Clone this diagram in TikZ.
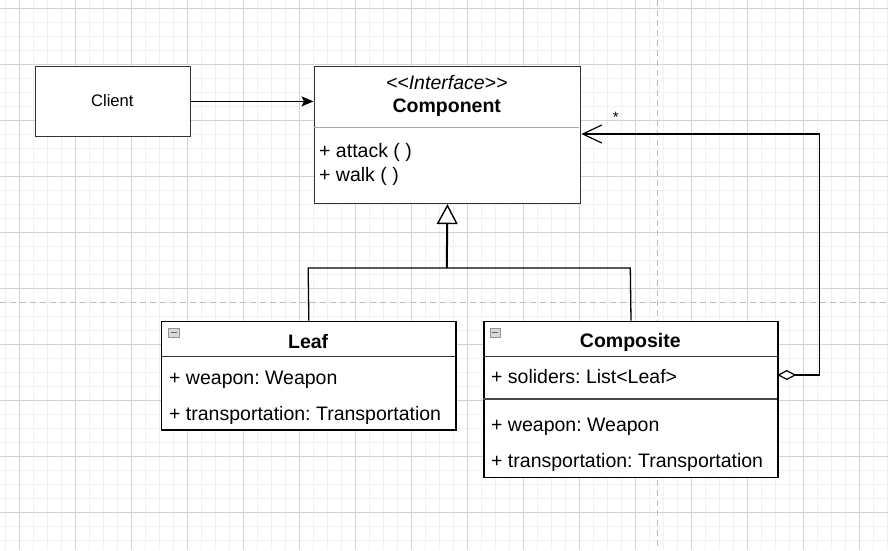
\documentclass[tikz,border=0pt]{standalone}
\usepackage{fontspec}
\setmainfont{Liberation Sans}
\usetikzlibrary{arrows.meta}
\frenchspacing
\definecolor{gridminor}{HTML}{F1F1F1}
\definecolor{gridmajor}{HTML}{D2D2D2}
\definecolor{pagedash}{HTML}{BDBDBD}
\definecolor{boxline}{HTML}{333333}
\definecolor{sepgrey}{HTML}{A8A8A8}
\definecolor{iconfill}{HTML}{D8D8D8}
\definecolor{icondark}{HTML}{666666}
\newcommand{\mainsize}{\fontsize{19.5}{23}\selectfont}
\newcommand{\clientsize}{\fontsize{16.6}{20}\selectfont}
\begin{document}
\begin{tikzpicture}[x=1pt,y=-1pt,
  box/.style={draw=boxline,line width=1.4pt,fill=white,rectangle,inner sep=0pt,anchor=north west},
  txt/.style={inner sep=0pt,font=\mainsize},
  attr/.style={txt,anchor=base west},
  ttl/.style={txt,anchor=base,font=\mainsize\bfseries},
  edge/.style={line width=1.3pt,black},
  icon/.style={draw=icondark!70,fill=iconfill,line width=0.6pt,inner sep=0pt,minimum width=10.5pt,minimum height=8.5pt,anchor=north west,rectangle}
]
\useasboundingbox (0,0) rectangle (888,550);
\fill[white] (0,0) rectangle (888,550);
% grid
\foreach \i in {0,...,63} {\draw[gridminor,line width=1.5pt] (5.5+14*\i,0) -- (5.5+14*\i,550);}
\foreach \i in {0,...,39} {\draw[gridminor,line width=1.5pt] (0,8.3+14*\i) -- (888,8.3+14*\i);}
\foreach \i in {0,...,15} {\draw[gridmajor,line width=0.9pt] (19.5+56*\i,0) -- (19.5+56*\i,550);}
\foreach \i in {0,...,9} {\draw[gridmajor,line width=0.9pt] (0,8.3+56*\i) -- (888,8.3+56*\i);}
% page break dashes
\draw[pagedash,line width=1.4pt,dash pattern=on 6pt off 4pt] (657.7,0) -- (657.7,550);
\draw[pagedash,line width=1.4pt,dash pattern=on 6pt off 4pt] (0,302.3) -- (888,302.3);

% Client
\node[box,minimum width=154.5pt,minimum height=70pt] (client) at (35,65.7) {};
\node[inner sep=0pt,anchor=base,font=\clientsize] (clienttxt) at (112.3,106) {Client};

% Component
\node[box,minimum width=266.5pt,minimum height=136.7pt] (comp) at (313.5,66) {};
\draw[sepgrey,line width=1.6pt] (314.2,127.5) -- (579.3,127.5);
\node[txt,anchor=base,font=\mainsize\itshape] (stereo) at (446.75,89.5) {<{}<Interface>{}>};
\node[ttl] (comptitle) at (446.75,112.3) {Component};
\node[attr] (m1) at (319,157.3) {+ attack ( )};
\node[attr] (m2) at (319,181.7) {+ walk ( )};

% Leaf
\node[box,draw=black,minimum width=294.3pt,minimum height=108.6pt] (leaf) at (161,320.7) {};
\draw[boxline,line width=1.4pt] (161,356.7) -- (455.3,356.7);
\node[icon] (leaficon) at (168.3,328) {};
\draw[icondark,line width=1.2pt] (170.5,332.3) -- (176.8,332.3);
\node[ttl] (leaftitle) at (308.15,348.3) {Leaf};
\node[attr] (la1) at (169,384) {+ weapon: Weapon};
\node[attr] (la2) at (169,420) {+ transportation: Transportation};

% Composite
\node[box,draw=black,minimum width=294pt,minimum height=156pt] (compo) at (483.3,320.7) {};
\draw[boxline,line width=1.4pt] (483.3,356.7) -- (777.3,356.7);
\draw[boxline!90,line width=1.8pt] (483.3,399) -- (777.3,399);
\node[icon] (compoicon) at (489.5,328) {};
\draw[icondark,line width=1.2pt] (491.7,332.3) -- (498,332.3);
\node[ttl] (compotitle) at (630.3,347.7) {Composite};
\node[attr] (ca0) at (491,383.3) {+ soliders: List<Leaf>};
\node[attr] (ca1) at (491,431.7) {+ weapon: Weapon};
\node[attr] (ca2) at (491,467.3) {+ transportation: Transportation};

% Client -> Component
\draw[edge,-{Stealth[length=12pt,width=10pt,inset=2.5pt]}] (client.east) -- (comp.west |- client.east);

% Generalization
\coordinate (join) at (446.75,268);
\coordinate (leafjoin) at (308.15,268);
\coordinate (compojoin) at (630.3,268);
\draw[edge] (leaf.north) -- (leafjoin) -- (compojoin) -- (compo.north);
\draw[line width=2pt,black,-{Triangle[open,length=20pt,width=21pt,line width=1.4pt,fill=white]}] (join) -- (comp.south);

% Aggregation
\coordinate (aggstart) at (777.3,375);
\coordinate (aggcorner) at (819.3,375);
\coordinate (aggtop) at (819.3,134);
\draw[edge,{Diamond[open,length=19pt,width=10pt,line width=1.2pt,fill=white]}-{Straight Barb[length=19pt,width=18pt,line width=1.2pt]}]
  (aggstart) -- (aggcorner) -- (aggtop) -- (comp.east |- aggtop);
\node[inner sep=0pt,font=\fontsize{15}{18}\selectfont] (mult) at (615.7,117) {*};
\end{tikzpicture}
\end{document}
